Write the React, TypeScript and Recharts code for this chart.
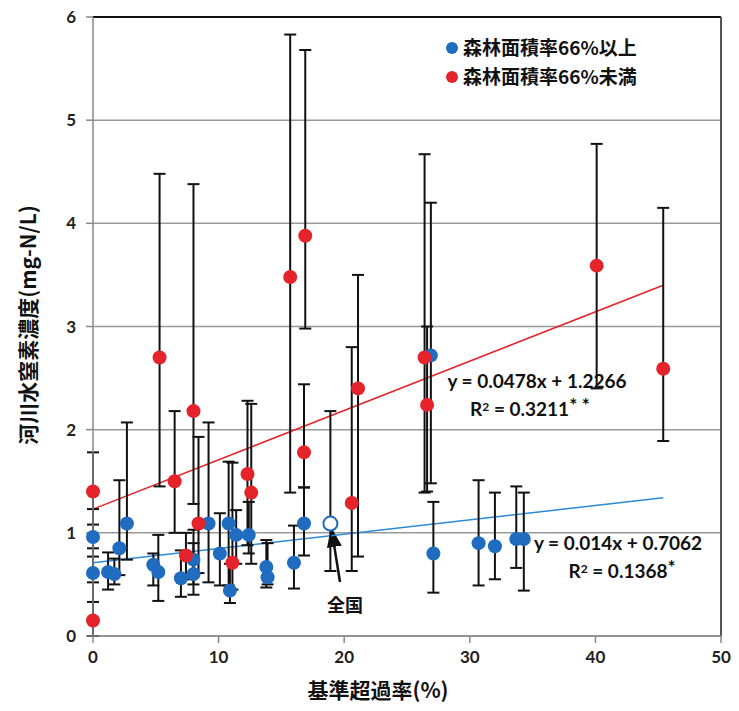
import React from 'react';
import { ScatterChart, Scatter, XAxis, YAxis, CartesianGrid, ErrorBar, ReferenceLine } from 'recharts';

// 森林面積率66%以上 (blue)
const highX = [0, 0, 1.2, 1.7, 2.1, 2.7, 4.8, 5.2, 7.0, 8.0, 8.0, 9.2, 10.1, 10.8, 10.9, 11.4, 12.4, 13.8, 13.9, 16.0, 16.8, 26.9, 27.1, 30.7, 32.0, 33.7, 34.3];
const highY = [0.96, 0.61, 0.62, 0.6, 0.85, 1.09, 0.69, 0.62, 0.56, 0.74, 0.6, 1.09, 0.8, 1.09, 0.44, 0.98, 0.98, 0.67, 0.57, 0.71, 1.09, 2.72, 0.8, 0.9, 0.87, 0.94, 0.94];
const highTop = [1.23, 0.85, 0.81, 0.75, 1.51, 2.07, 0.8, 0.98, 0.83, 1.03, 0.9, 2.07, 1.19, 1.69, 0.7, 1.22, 1.3, 0.93, 0.9, 1.07, 1.44, 4.2, 1.3, 1.51, 1.39, 1.45, 1.39];
const highBottom = [0.77, 0.33, 0.45, 0.5, 0.59, 0.74, 0.49, 0.34, 0.38, 0.5, 0.4, 0.52, 0.49, 0.49, 0.32, 0.7, 0.8, 0.47, 0.5, 0.46, 0.78, 1.48, 0.42, 0.49, 0.55, 0.66, 0.44];

// 森林面積率66%未満 (red)
const lowX = [0, 0, 5.3, 6.5, 8.0, 7.4, 8.4, 11.1, 12.3, 12.6, 15.7, 16.9, 16.8, 20.6, 21.1, 26.4, 26.6, 40.1, 45.4];
const lowY = [1.4, 0.15, 2.7, 1.5, 2.18, 0.78, 1.09, 0.71, 1.57, 1.39, 3.48, 3.88, 1.78, 1.29, 2.4, 2.7, 2.24, 3.59, 2.59];
const lowTop = [1.78, 0.52, 4.48, 2.18, 4.38, 1.0, 1.93, 1.68, 2.28, 2.25, 5.83, 5.68, 2.44, 2.8, 3.5, 4.67, 3.0, 4.77, 4.15];
const lowBottom = [1.08, 0.0, 1.45, 1.0, 1.28, 0.55, 0.61, 0.45, 0.88, 0.7, 1.39, 2.98, 1.44, 0.63, 0.77, 1.39, 1.4, 2.4, 1.89];

// 全国
const nationX = [18.9];
const nationY = [1.09];
const nationTop = [2.18];
const nationBottom = [0.63];

// trend lines (start and end)
const redTrendX = [0, 45.4];
const redTrendY = [1.23, 3.4];
const blueTrendX = [0, 45.4];
const blueTrendY = [0.71, 1.34];

const xTicks = [0, 10, 20, 30, 40, 50];
const yTicks = [0, 1, 2, 3, 4, 5, 6];

const BLUE = '#1f6cc0';
const RED = '#e5232b';
const JP = '"Noto Sans CJK JP", "Noto Sans", sans-serif';
const NUM = 'Lato, "Open Sans", sans-serif';

const build = (xs: number[], ys: number[], tops: number[], bottoms: number[]) =>
  xs.map((x, i) => ({ x, y: ys[i], err: [ys[i] - bottoms[i], tops[i] - ys[i]] }));

const highData = build(highX, highY, highTop, highBottom);
const lowData = build(lowX, lowY, lowTop, lowBottom);
const nationData = build(nationX, nationY, nationTop, nationBottom);

const dot = (fill: string, stroke?: string) => (props: any) => (
  <circle cx={props.cx} cy={props.cy} r={7} fill={fill} stroke={stroke || fill} strokeWidth={stroke ? 2 : 0} />
);

const tickStyle = { fill: '#222', fontSize: 17, fontWeight: 700, fontFamily: NUM };
const eqStyle = { fontSize: 19, fontWeight: 700, fontFamily: NUM, fill: '#111' };

export default function App() {
  return (
    <div style={{ position: 'absolute', left: 0, top: 0, width: 739, height: 711, background: '#fff' }}>
      <ScatterChart width={739} height={711} margin={{ top: 17, right: 18, bottom: 35, left: 33 }}>
        <defs>
          <marker id="arrowHead" markerWidth="8" markerHeight="8" refX="6" refY="4" orient="auto">
            <path d="M0,1 L8,4 L0,7 z" fill="#111" />
          </marker>
        </defs>
        <CartesianGrid vertical={false} stroke="#999" strokeWidth={1.5} />
        <XAxis
          type="number"
          dataKey="x"
          domain={[0, 50]}
          ticks={xTicks}
          tick={tickStyle}
          tickSize={7}
          tickMargin={8}
          stroke="#888"
          strokeWidth={1.5}
          height={40}
        />
        <YAxis
          type="number"
          dataKey="y"
          domain={[0, 6]}
          ticks={yTicks}
          tick={tickStyle}
          tickSize={7}
          tickMargin={10}
          stroke="#888"
          strokeWidth={1.5}
          width={60}
        />
        <ReferenceLine y={6} stroke="#111" strokeWidth={2} />
        <ReferenceLine x={50} stroke="#555" strokeWidth={2} />
        <ReferenceLine
          segment={[{ x: redTrendX[0], y: redTrendY[0] }, { x: redTrendX[1], y: redTrendY[1] }]}
          stroke={RED}
          strokeWidth={1.5}
        />
        <ReferenceLine
          segment={[{ x: blueTrendX[0], y: blueTrendY[0] }, { x: blueTrendX[1], y: blueTrendY[1] }]}
          stroke="#2a8ad6"
          strokeWidth={1.5}
        />
        <Scatter name="森林面積率66%以上" data={highData} shape={dot(BLUE)} isAnimationActive={false}>
          <ErrorBar dataKey="err" direction="y" width={6} stroke="#111" strokeWidth={2} />
        </Scatter>
        <Scatter name="全国" data={nationData} shape={dot('#fff', BLUE)} isAnimationActive={false}>
          <ErrorBar dataKey="err" direction="y" width={6} stroke="#111" strokeWidth={2} />
        </Scatter>
        <Scatter name="森林面積率66%未満" data={lowData} shape={dot(RED)} isAnimationActive={false}>
          <ErrorBar dataKey="err" direction="y" width={6} stroke="#111" strokeWidth={2} />
        </Scatter>

        {/* legend */}
        <circle cx={452} cy={48} r={6} fill={BLUE} />
        <text x={463} y={55} fontSize={19} fontWeight={700} fontFamily={JP} fill="#111">森林面積率66%以上</text>
        <circle cx={452} cy={77} r={6} fill={RED} />
        <text x={463} y={84} fontSize={19} fontWeight={700} fontFamily={JP} fill="#111">森林面積率66%未満</text>

        {/* regression labels */}
        <text x={537} y={388} textAnchor="middle" {...eqStyle}>y = 0.0478x + 1.2266</text>
        <text x={530} y={416} textAnchor="middle" {...eqStyle}>
          R<tspan dy={-5} fontSize={12}>2</tspan><tspan dy={5}> = 0.3211</tspan><tspan dy={-4}>* *</tspan>
        </text>
        <text x={618} y={550} textAnchor="middle" {...eqStyle}>y = 0.014x + 0.7062</text>
        <text x={622} y={578} textAnchor="middle" {...eqStyle}>
          R<tspan dy={-5} fontSize={12}>2</tspan><tspan dy={5}> = 0.1368</tspan><tspan dy={-4}>*</tspan>
        </text>

        {/* 全国 annotation */}
        <line x1={340} y1={582} x2={332} y2={532} stroke="#111" strokeWidth={2.5} markerEnd="url(#arrowHead)" />
        <text x={345} y={612} textAnchor="middle" fontSize={18} fontWeight={700} fontFamily={JP} fill="#111">全国</text>

        {/* axis titles */}
        <text x={378} y={698} textAnchor="middle" fontSize={21} fontWeight={700} fontFamily={JP} fill="#111">基準超過率(%)</text>
        <text
          x={30}
          y={325}
          transform="rotate(-90 30 325)"
          textAnchor="middle"
          dominantBaseline="middle"
          fontSize={21}
          fontWeight={700}
          fontFamily={JP}
          fill="#111"
        >
          河川水窒素濃度(mg-N/L)
        </text>
      </ScatterChart>
    </div>
  );
}
